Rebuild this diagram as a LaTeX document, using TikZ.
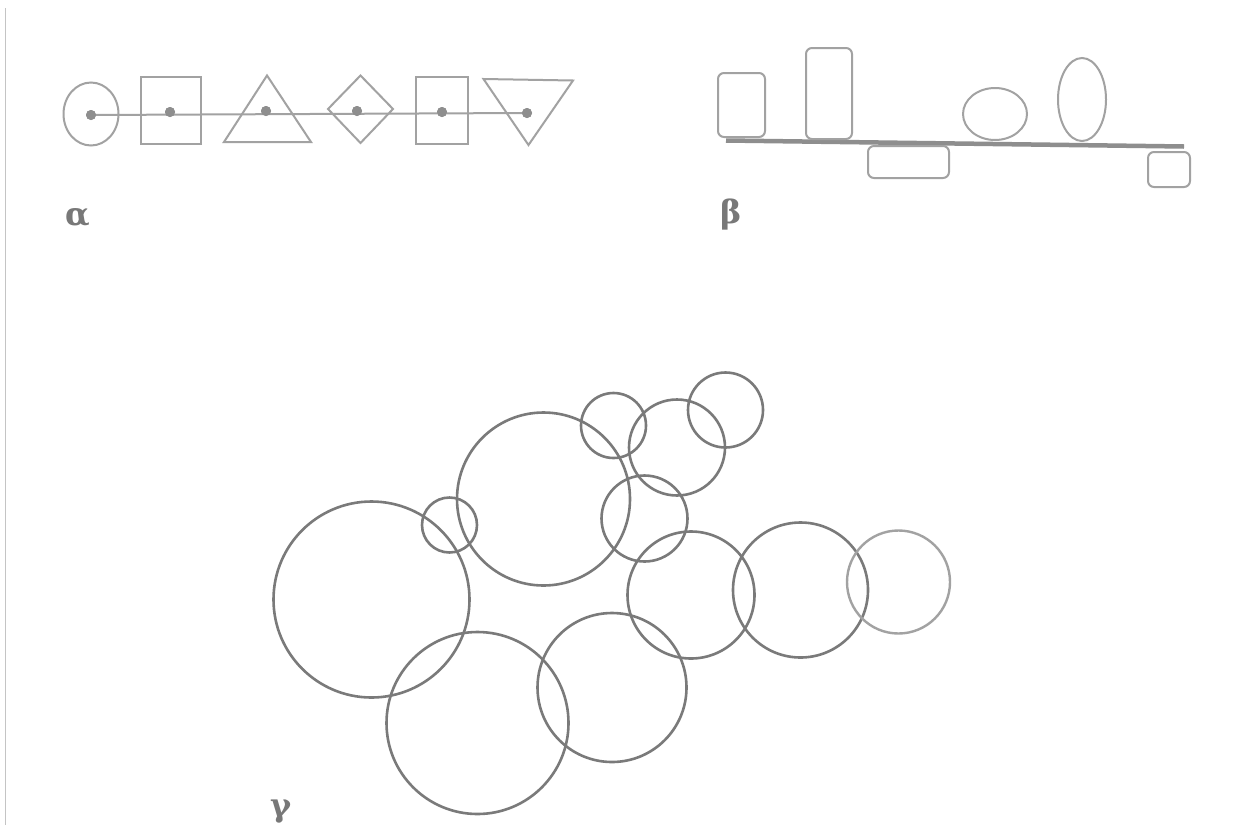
\documentclass[tikz,border=0pt]{standalone}
\usepackage{fontspec}
\setmainfont{DejaVu Serif}
\usetikzlibrary{shapes.geometric}
\definecolor{lite}{HTML}{A2A2A2}
\definecolor{midg}{HTML}{7A7A7A}
\definecolor{dotg}{HTML}{8E8E8E}
\definecolor{txtg}{HTML}{787878}
\definecolor{edge}{HTML}{C4C4C4}
\tikzset{
  ashape/.style={draw=lite, line width=2pt, inner sep=0pt, outer sep=0pt},
  apath/.style={draw=lite, line width=2pt, line join=miter},
  dotnode/.style={circle, fill=dotg, inner sep=0pt, minimum size=10pt},
  link/.style={draw=lite, line width=2pt},
  bbox/.style={draw=lite, line width=2pt, rounded corners=6pt, inner sep=0pt, outer sep=0pt},
  boval/.style={ellipse, draw=lite, line width=2pt, inner sep=0pt, outer sep=0pt},
  bbase/.style={draw=dotg, line width=4.5pt},
  ring/.style={circle, draw=midg, line width=2.6pt, inner sep=0pt, outer sep=0pt},
  lring/.style={circle, draw=lite, line width=2.4pt, inner sep=0pt, outer sep=0pt},
  lbl/.style={text=txtg, font=\fontsize{32}{32}\selectfont\bfseries, inner sep=0pt}
}
\begin{document}
\begin{tikzpicture}[x=1pt,y=-1pt]
\useasboundingbox (0,0) rectangle (1249,825);
\fill[white] (0,0) rectangle (1249,825);
% page edge
\coordinate (et) at (5.5,8);
\coordinate (eb) at (5.5,825);
\draw[edge, line width=1.5pt] (et) -- (eb);

% ---------- alpha ----------
\node[ashape, ellipse, minimum width=55pt, minimum height=63pt] (a1) at (91,114) {};
\node[ashape, rectangle, minimum width=60pt, minimum height=67pt] (a2) at (171,110.5) {};
\draw[apath] (267,75.5) -- (311,142) -- (224,142) -- cycle;
\draw[apath] (328,109) -- (360.5,75.5) -- (393,109) -- (360.5,143) -- cycle;
\node[ashape, rectangle, minimum width=52pt, minimum height=67pt] (a5) at (442,110.5) {};
\draw[apath] (483.5,79) -- (573,80.5) -- (528.5,145) -- cycle;
\node[dotnode] (d1) at (91,115) {};
\node[dotnode] (d2) at (170,112) {};
\node[dotnode] (d3) at (266,111) {};
\node[dotnode] (d4) at (357,111) {};
\node[dotnode] (d5) at (442,112) {};
\node[dotnode] (d6) at (527,113) {};
\draw[link] (d1.center) -- (d6.center);
\node[dotnode] at (d1) {};
\node[dotnode] at (d2) {};
\node[dotnode] at (d3) {};
\node[dotnode] at (d4) {};
\node[dotnode] at (d5) {};
\node[dotnode] at (d6) {};
\node[lbl] (la) at (78,218) {α};

% ---------- beta ----------
\coordinate (bl) at (726,140.5);
\coordinate (br) at (1184,146.5);
\draw[bbase] (bl) -- (br);
\node[bbox, minimum width=47pt, minimum height=64pt] (b1) at (741.5,105) {};
\node[bbox, minimum width=46pt, minimum height=91pt] (b2) at (829,93.5) {};
\node[bbox, minimum width=81pt, minimum height=32pt] (b3) at (908.5,162) {};
\node[boval, minimum width=64pt, minimum height=52pt] (b4) at (995,114) {};
\node[boval, minimum width=48pt, minimum height=83pt] (b5) at (1082,99.5) {};
\node[bbox, minimum width=42pt, minimum height=35pt] (b6) at (1169,169.5) {};
\node[lbl] (lb) at (731,215) {β};

% ---------- gamma ----------
\node[ring, minimum size=196pt] (c1) at (371.5,599.5) {};
\node[ring, minimum size=182pt] (c2) at (477.5,723) {};
\node[ring, minimum size=173pt] (c3) at (543.5,499) {};
\node[ring, minimum size=55pt] (c4) at (449.5,525) {};
\node[ring, minimum size=65pt] (c5) at (613.5,425.5) {};
\node[ring, minimum size=96pt] (c6) at (677,447.5) {};
\node[ring, minimum size=75pt] (c7) at (725.5,410) {};
\node[ring, minimum size=86pt] (c8) at (644.5,518.5) {};
\node[ring, minimum size=149pt] (c9) at (612,687.5) {};
\node[ring, minimum size=127pt] (c10) at (691,595) {};
\node[ring, minimum size=135pt] (c11) at (800.5,590) {};
\node[lring, minimum size=103pt] (c12) at (898.5,582) {};
\node[lbl] (lc) at (281,812) {γ};
\end{tikzpicture}
\end{document}
